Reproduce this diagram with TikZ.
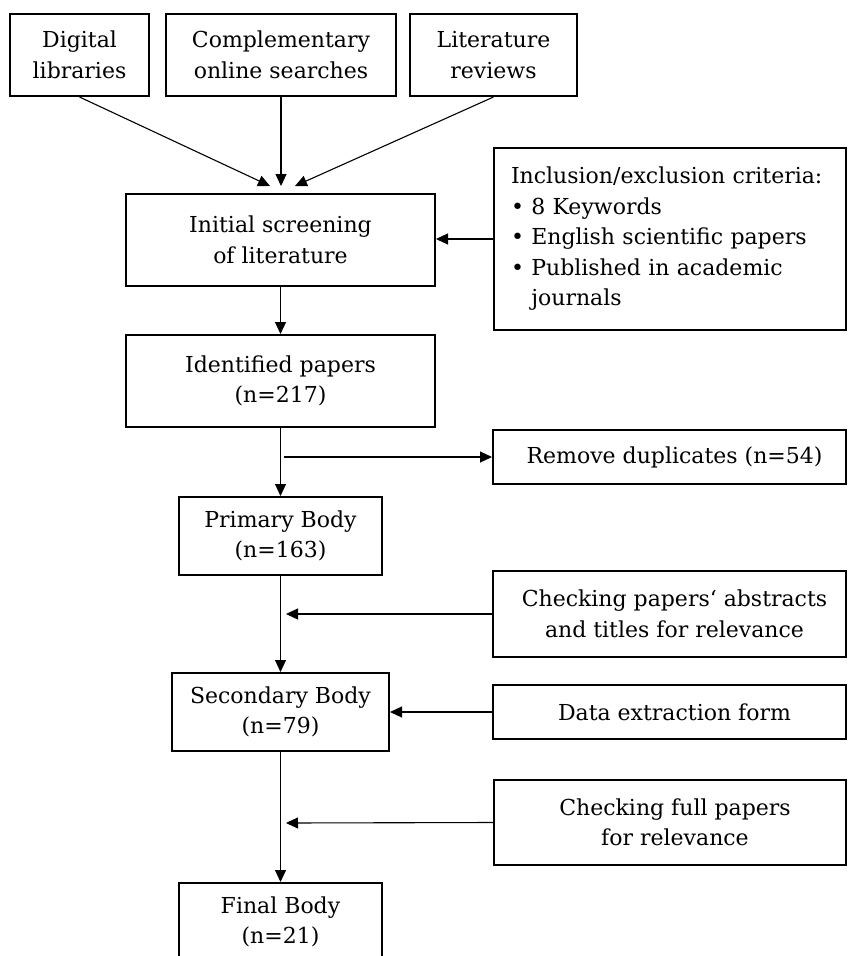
\documentclass[tikz,border=0pt]{standalone}
\usepackage{fontspec}
\setmainfont{DejaVu Serif}
\usetikzlibrary{arrows.meta}

\tikzset{
  box/.style={draw=black, line width=2pt, fill=white, align=center, inner sep=0pt,
              font=\fontsize{22}{30.5}\selectfont},
  listbox/.style={box, align=left, inner xsep=17pt, inner ysep=0pt},
  flow/.style={draw=black, line width=1.1pt, -{Triangle[length=12pt,width=11pt]}},
  plainline/.style={draw=black, line width=1.1pt}
}

\begin{document}
\begin{tikzpicture}[x=1pt,y=-1pt]
  \clip (0,0) rectangle (848,956);
  \fill[white] (0,0) rectangle (848,956);

  % sources
  \node[box, minimum width=139pt, minimum height=82pt] (dig)  at (79.5,55)  {Digital\\libraries};
  \node[box, minimum width=230pt, minimum height=82pt] (comp) at (281,55)   {Complementary\\online searches};
  \node[box, minimum width=167pt, minimum height=82pt] (lit)  at (493.5,55) {Literature\\reviews};

  % main column
  \node[box, minimum width=309pt, minimum height=92pt] (init)  at (280.5,240) {Initial screening\\of literature};
  \node[box, minimum width=309pt, minimum height=92pt] (ident) at (280.5,381) {Identified papers\\(n=217)};
  \node[box, minimum width=203pt, minimum height=78pt] (prim)  at (280.5,536) {Primary Body\\(n=163)};
  \node[box, minimum width=217pt, minimum height=78pt] (sec)   at (280.5,712) {Secondary Body\\(n=79)};
  \node[box, minimum width=203pt, minimum height=78pt] (fin)   at (280.5,922) {Final Body\\(n=21)};

  % side column
  \node[listbox, text width=318pt, minimum height=182pt] (incl) at (670,239)
    {Inclusion/exclusion criteria:\\
     • 8 Keywords\\
     • English scientific papers\\
     • Published in academic\\
     \hphantom{• }journals};
  \node[box, minimum width=353pt, minimum height=54pt] (rem)  at (669.5,457) {\hspace*{10pt}Remove duplicates (n=54)};
  \node[box, minimum width=353pt, minimum height=86pt] (abs)  at (669.5,614) {\hspace*{10pt}Checking papers‘ abstracts\\\hspace*{10pt}and titles for relevance};
  \node[box, minimum width=353pt, minimum height=54pt] (data) at (669.5,712) {\hspace*{10pt}Data extraction form};
  \node[box, minimum width=352pt, minimum height=85pt] (full) at (670,822.5) {\hspace*{10pt}Checking full papers\\\hspace*{10pt}for relevance};

  % free ends of connectors
  \coordinate (inL) at (270,186);
  \coordinate (inM) at (281,186);
  \coordinate (inR) at (295,186);
  \coordinate (split) at (284,457);
  \coordinate (joinA) at (286,614);
  \coordinate (joinB) at (286,823);

  % connectors
  \draw[flow] (dig.south)  -- (inL);
  \draw[flow] (comp.south) -- (inM);
  \draw[flow] (lit.south)  -- (inR);
  \draw[flow] (incl.west) -- (incl.west -| init.east);
  \draw[flow] (init.south) -- (ident.north);
  \draw[flow] (ident.south) -- (prim.north);
  \draw[flow] (split) -- (rem.west);
  \draw[flow] (prim.south) -- (sec.north);
  \draw[flow] (abs.west) -- (joinA);
  \draw[flow] (data.west) -- (data.west -| sec.east);
  \draw[flow] (sec.south) -- (fin.north);
  \draw[flow] (full.west) -- (joinB);
\end{tikzpicture}
\end{document}
